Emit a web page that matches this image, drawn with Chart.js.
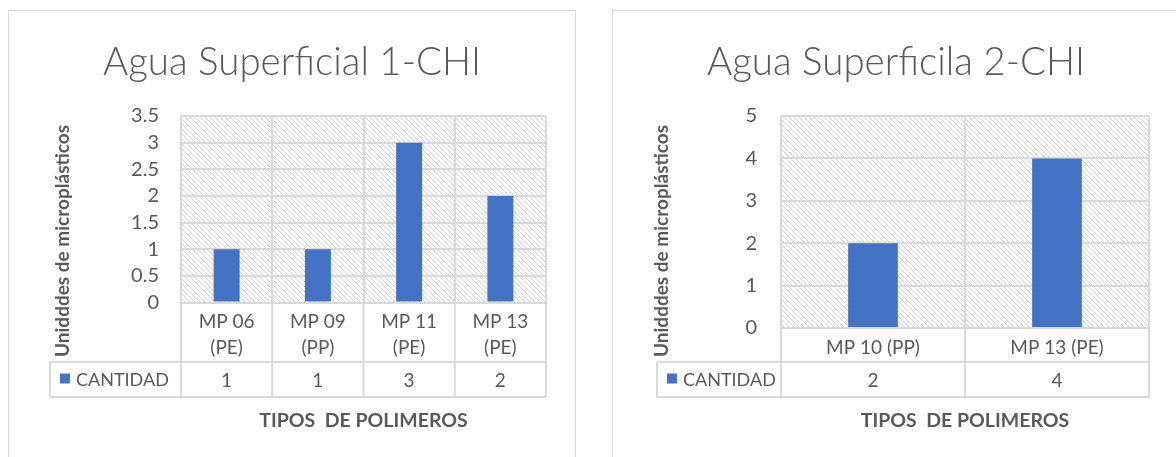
<!DOCTYPE html>
<html>
<head>
<meta charset="utf-8">
<script src="https://cdn.jsdelivr.net/npm/chart.js@4.4.0/dist/chart.umd.min.js"></script>
<style>
  body { margin: 0; background: #fff; }
  .panel { position: absolute; top: 10px; width: 566px; height: 447px; border: 1px solid #d9d9d9; border-bottom: none; }
  canvas { display: block; }
</style>
</head>
<body>
<div class="panel" style="left:8px"><canvas id="grafico1" width="566" height="446"></canvas></div>
<div class="panel" style="left:612px"><canvas id="grafico2" width="566" height="446"></canvas></div>
<script>
// datos grafico 1
var categorias1 = [['MP 06', '(PE)'], ['MP 09', '(PP)'], ['MP 11', '(PE)'], ['MP 13', '(PE)']];
var cantidad1 = [1, 1, 3, 2];
var ejeY1 = { max: 3.5, paso: 0.5 };

// datos grafico 2
var categorias2 = ['MP 10 (PP)', 'MP 13 (PE)'];
var cantidad2 = [2, 4];
var ejeY2 = { max: 5, paso: 1 };

var serie = 'CANTIDAD';
var tituloY = 'Unidddes de microplásticos';
var tituloX = 'TIPOS  DE POLIMEROS';
var gris = '#595959';
var linea = '#d9d9d9';
var azul = '#4472c4';
var fuente = 'Lato';

// patron rayado del fondo
var trama = document.createElement('canvas');
trama.width = 5; trama.height = 5;
var tctx = trama.getContext('2d');
tctx.fillStyle = '#fff';
tctx.fillRect(0, 0, 5, 5);
tctx.fillStyle = '#d3d3d3';
for (var i = 0; i < 5; i++) { tctx.fillRect(i, i, 1, 1); }

var tabla = {
    id: 'tabla',
    beforeDraw: function(chart){
        var a = chart.chartArea, ctx = chart.ctx;
        ctx.save();
        ctx.fillStyle = ctx.createPattern(trama, 'repeat');
        ctx.fillRect(a.left, a.top, a.right - a.left, a.bottom - a.top);
        ctx.restore();
    },
    afterDraw: function(chart, args, op){
        var a = chart.chartArea, ctx = chart.ctx;
        var n = chart.data.labels.length;
        var w = (a.right - a.left) / n;
        var y0 = op.filaY, y1 = op.filaY + op.filaH;
        ctx.save();
        ctx.strokeStyle = linea;
        ctx.lineWidth = 2;
        ctx.beginPath();
        for (var k = 0; k <= n; k++) {
            ctx.moveTo(a.left + k * w, a.bottom);
            ctx.lineTo(a.left + k * w, y1);
        }
        ctx.moveTo(op.leyendaX, y0); ctx.lineTo(op.leyendaX, y1);
        ctx.moveTo(op.leyendaX, y0); ctx.lineTo(a.right, y0);
        ctx.moveTo(op.leyendaX, y1); ctx.lineTo(a.right, y1);
        ctx.stroke();

        var vals = chart.data.datasets[0].data;
        var x = chart.scales.x;
        ctx.fillStyle = gris;
        ctx.font = '19px ' + fuente;
        ctx.textAlign = 'center';
        ctx.textBaseline = 'middle';
        for (var j = 0; j < vals.length; j++) {
            ctx.fillText(String(vals[j]), x.getPixelForValue(j), (y0 + y1) / 2 + 1);
        }
        // leyenda
        ctx.fillStyle = azul;
        ctx.fillRect(op.leyendaX + 10, (y0 + y1) / 2 - 6, 10, 10);
        ctx.fillStyle = gris;
        ctx.textAlign = 'left';
        ctx.font = '18px ' + fuente;
        ctx.fillText(chart.data.datasets[0].label, op.leyendaX + 26, (y0 + y1) / 2 + 1);

        // titulo eje y
        ctx.translate(op.tituloYX, op.tituloYY);
        ctx.rotate(-Math.PI / 2);
        ctx.textAlign = 'center';
        ctx.font = 'bold 19px ' + fuente;
        ctx.fillText(tituloY, 0, 0);
        ctx.restore();
    }
};

function grafico(id, titulo, etiquetas, datos, eje, conf){
    var ctx = document.getElementById(id).getContext('2d');
    return new Chart(ctx, {
        type: 'bar',
        data: {
            labels: etiquetas,
            datasets: [{
                label: serie,
                data: datos,
                backgroundColor: azul,
                barPercentage: conf.barra,
                categoryPercentage: 1
            }]
        },
        options: {
            responsive: false,
            animation: false,
            layout: { padding: { left: conf.lado, right: conf.lado, top: 0, bottom: 0 } },
            plugins: {
                legend: { display: false },
                tooltip: { enabled: false },
                title: {
                    display: true,
                    text: titulo,
                    color: gris,
                    font: { family: fuente, size: 38.5, weight: '300', lineHeight: 1.2 },
                    padding: { top: 28, bottom: 105 - 28 - 46.2 }
                },
                tabla: conf.tabla
            },
            scales: {
                x: {
                    offset: true,
                    grid: { offset: true, color: linea, lineWidth: 2, drawTicks: false },
                    border: { color: linea, width: 2 },
                    ticks: {
                        color: gris,
                        padding: conf.padX,
                        maxRotation: 0,
                        autoSkip: false,
                        font: { family: fuente, size: 19, lineHeight: '26px' }
                    },
                    title: {
                        display: true,
                        text: tituloX,
                        color: gris,
                        font: { family: fuente, size: 19.5, weight: 'bold', lineHeight: 1.2 },
                        padding: { top: 0, bottom: 25 }
                    },
                    afterFit: function(s){ s.height = conf.altoX; }
                },
                y: {
                    min: 0,
                    max: eje.max,
                    grid: { color: linea, lineWidth: 2, drawTicks: false },
                    border: { color: linea, width: 2 },
                    ticks: {
                        stepSize: eje.paso,
                        autoSkip: false,
                        color: gris,
                        padding: conf.padY,
                        font: { family: fuente, size: 20 },
                        callback: function(v){ return String(v); }
                    },
                    afterFit: function(s){ s.width = conf.anchoY; }
                }
            }
        },
        plugins: [tabla]
    });
}

grafico('grafico1', 'Agua Superficial 1-CHI', categorias1, cantidad1, ejeY1, {
    barra: 0.285, lado: 29, altoX: 446 - 291.5, padX: 6, padY: 22, anchoY: 172 - 29,
    tabla: { filaY: 351, filaH: 35, leyendaX: 41, tituloYX: 54, tituloYY: 230 }
});

grafico('grafico2', 'Agua Superficila 2-CHI', categorias2, cantidad2, ejeY2, {
    barra: 0.27, lado: 30, altoX: 446 - 317, padX: 7, padY: 24, anchoY: 168 - 30,
    tabla: { filaY: 351, filaH: 35, leyendaX: 44, tituloYX: 49, tituloYY: 230 }
});
</script>
</body>
</html>
